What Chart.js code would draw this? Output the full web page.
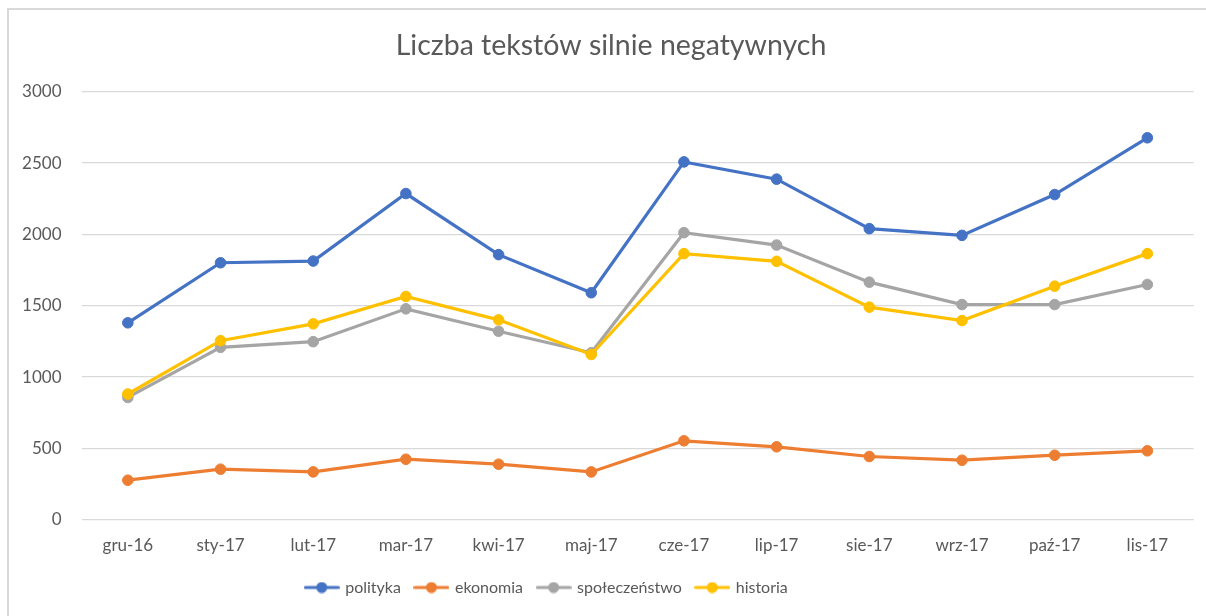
<!DOCTYPE html>
<html lang="pl">
<head>
<meta charset="utf-8">
<title>Liczba tekstów silnie negatywnych</title>
<script src="https://cdn.jsdelivr.net/npm/chart.js@4/dist/chart.umd.min.js"></script>
<style>
  html, body {
    margin: 0;
    padding: 0;
    background: #fff;
    overflow: hidden;
  }
  .frame {
    position: absolute;
    left: 7px;
    top: 8px;
    width: 1300px;
    height: 700px;
    border: 2px solid #d9d9d9;
  }
  #chart {
    position: absolute;
    left: 0;
    top: 0;
  }
</style>
</head>
<body>
<div class="frame"></div>
<canvas id="chart" width="1200" height="616"></canvas>
<script>
const MONTHS = ["gru-16", "sty-17", "lut-17", "mar-17", "kwi-17", "maj-17",
  "cze-17", "lip-17", "sie-17", "wrz-17", "paź-17", "lis-17"];

const POLITYKA = [1380, 1801, 1813, 2286, 1858, 1591, 2508, 2387, 2040, 1993, 2279, 2677];
const EKONOMIA = [277, 354, 335, 424, 389, 335, 553, 511, 443, 417, 452, 483];
const SPOLECZENSTWO = [857, 1208, 1248, 1478, 1321, 1170, 2012, 1925, 1665, 1508, 1508, 1649];
const HISTORIA = [881, 1255, 1373, 1565, 1401, 1158, 1865, 1811, 1490, 1396, 1637, 1865];

const Y_TICKS = [0, 500, 1000, 1500, 2000, 2500, 3000];

const COLORS = {
  polityka: "#4472c4",
  ekonomia: "#ed7d31",
  spoleczenstwo: "#a5a5a5",
  historia: "#ffc000",
};

const TEXT_COLOR = "#595959";
const FONT = "Lato, 'Open Sans', sans-serif";

// small "line with a dot" swatch for the legend
function legendIcon(color) {
  const c = document.createElement("canvas");
  c.width = 36;
  c.height = 12;
  const g = c.getContext("2d");
  g.strokeStyle = color;
  g.lineWidth = 3;
  g.lineCap = "round";
  g.beginPath();
  g.moveTo(1.5, 6);
  g.lineTo(34.5, 6);
  g.stroke();
  g.fillStyle = color;
  g.beginPath();
  g.arc(18, 6, 5.5, 0, Math.PI * 2);
  g.fill();
  return c;
}

function series(label, data, color, order) {
  return {
    label,
    data,
    order,
    borderColor: color,
    backgroundColor: color,
    borderWidth: 3.2,
    tension: 0,
    pointRadius: 5.3,
    pointBorderWidth: 1,
    pointBackgroundColor: color,
    pointBorderColor: color,
    fill: false,
  };
}

const datasets = [
  series("polityka", POLITYKA, COLORS.polityka, 3),
  series("ekonomia", EKONOMIA, COLORS.ekonomia, 2),
  series("społeczeństwo", SPOLECZENSTWO, COLORS.spoleczenstwo, 1),
  series("historia", HISTORIA, COLORS.historia, 0),
];

const icons = datasets.map((d) => legendIcon(d.borderColor));

// title is centred on the whole frame, the legend a bit left of the plot centre
const TITLE_SHIFT = 11;
const LEGEND_SHIFT = -53;
const shiftBoxes = {
  id: "shiftBoxes",
  afterLayout(chart) {
    const t = chart.titleBlock;
    if (t) {
      t.left += TITLE_SHIFT;
      t.right += TITLE_SHIFT;
    }
    const lg = chart.legend;
    if (lg) {
      lg.left += LEGEND_SHIFT;
      lg.right += LEGEND_SHIFT;
    }
  },
};

Chart.defaults.font.family = FONT;
Chart.defaults.color = TEXT_COLOR;

new Chart(document.getElementById("chart"), {
  type: "line",
  data: {
    labels: MONTHS,
    datasets,
  },
  plugins: [shiftBoxes],
  options: {
    responsive: false,
    animation: false,
    layout: {
      padding: { left: 0, right: 0, top: 0, bottom: 10.5 },
    },
    plugins: {
      title: {
        display: true,
        text: "Liczba tekstów silnie negatywnych",
        color: TEXT_COLOR,
        font: { size: 28.5, weight: "400", family: FONT },
        padding: { top: 28.9, bottom: 28.6 },
      },
      legend: {
        position: "bottom",
        labels: {
          usePointStyle: true,
          pointStyleWidth: 31,
          padding: 15,
          color: TEXT_COLOR,
          font: { size: 16, family: FONT },
          sort: (a, b) => a.datasetIndex - b.datasetIndex,
          generateLabels: (chart) => {
            const items = Chart.defaults.plugins.legend.labels.generateLabels(chart);
            items.forEach((it) => {
              it.pointStyle = icons[it.datasetIndex];
            });
            return items;
          },
        },
      },
      tooltip: { enabled: false },
    },
    scales: {
      x: {
        offset: true,
        grid: { display: false, drawTicks: false },
        border: { display: false },
        ticks: {
          padding: 16,
          color: TEXT_COLOR,
          font: { size: 17, family: FONT },
          maxRotation: 0,
          autoSkip: false,
        },
        afterFit: (scale) => {
          scale.height = 44.8;
        },
      },
      y: {
        min: 0,
        max: 3000,
        afterBuildTicks: (scale) => {
          scale.ticks = Y_TICKS.map((v) => ({ value: v }));
        },
        grid: { color: "#d9d9d9", lineWidth: 1.3, drawTicks: false },
        border: { display: false },
        ticks: {
          padding: 20,
          color: TEXT_COLOR,
          font: { size: 17, family: FONT },
          callback: (v) => String(v),
        },
        afterFit: (scale) => {
          scale.width = 81.5;
        },
      },
    },
  },
});
</script>
</body>
</html>
